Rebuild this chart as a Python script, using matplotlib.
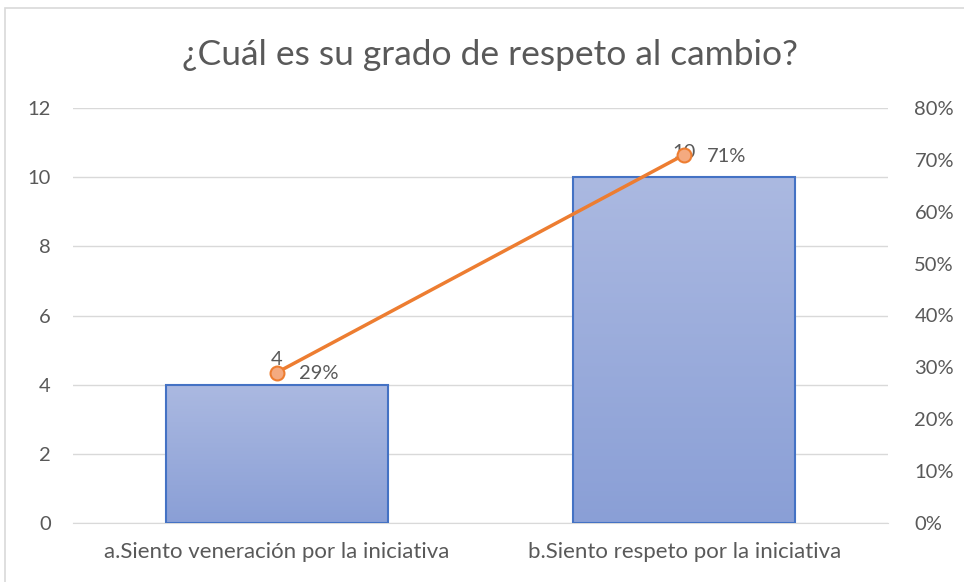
import numpy as np
import matplotlib.pyplot as plt
from matplotlib.patches import Rectangle
from matplotlib.ticker import PercentFormatter
from matplotlib.colors import LinearSegmentedColormap

plt.rcParams['font.family'] = ['Lato', 'DejaVu Sans']

categories = ["a.Siento veneración por la iniciativa", "b.Siento respeto por la iniciativa"]
counts = [4, 10]
shares = [0.29, 0.71]
share_labels = ["29%", "71%"]

grey = "#595959"

fig = plt.figure(figsize=(9.64, 5.82), dpi=100)
ax = fig.add_axes([73 / 964, 1 - 523 / 582, 815 / 964, 415 / 582])
ax2 = ax.twinx()

x = np.arange(len(categories))
bars = ax.bar(x, counts, width=0.545, facecolor="none", edgecolor="#4472c4",
              linewidth=1.5, zorder=3)

# vertical gradient inside each bar
cmap = LinearSegmentedColormap.from_list("g", ["#8a9fd6", "#abb9e1"])
grad = np.linspace(0, 1, 256).reshape(-1, 1)
for b in bars:
    x0, w, h = b.get_x(), b.get_width(), b.get_height()
    im = ax.imshow(grad, cmap=cmap, origin="lower", aspect="auto",
                   extent=[x0, x0 + w, 0, h], zorder=2)
    im.set_clip_path(b)

ax.set_xlim(-0.5, 1.5)
ax.set_ylim(0, 12)
ax.set_yticks(range(0, 13, 2))
ax.set_xticks(x)
ax.set_xticklabels(categories)
ax.grid(axis="y", color="#d9d9d9", linewidth=1, zorder=0)
ax.set_axisbelow(True)

for a in (ax, ax2):
    for s in a.spines.values():
        s.set_visible(False)
    a.tick_params(length=0, colors=grey, labelsize=14.5)
ax.spines["bottom"].set_visible(True)
ax.spines["bottom"].set_color("#d9d9d9")
ax.tick_params(axis="x", labelsize=16, pad=14)
ax.tick_params(axis="y", pad=16)
ax2.tick_params(axis="y", pad=19)

ax2.set_ylim(0, 0.8)
ax2.set_yticks(np.arange(0, 0.81, 0.1))
ax2.yaxis.set_major_formatter(PercentFormatter(1.0, decimals=0))

ax2.plot(x, shares, color="#ed7d31", linewidth=2.5, marker="o", markersize=10,
         markerfacecolor="#f4aa80", markeredgecolor="#ed7d31", markeredgewidth=1.5,
         zorder=5)

for xi, c in zip(x, counts):
    ax.annotate(str(c), (xi, c), xytext=(0, 18), textcoords="offset points",
                ha="center", va="center", color=grey, fontsize=14.5, zorder=6)
for xi, s, lab in zip(x, shares, share_labels):
    ax2.annotate(lab, (xi, s), xytext=(16, -1), textcoords="offset points",
                 ha="left", va="center", color=grey, fontsize=14.5, zorder=6)

fig.text(490 / 964, 1 - 55 / 582, "¿Cuál es su grado de respeto al cambio?",
         ha="center", va="center", color=grey, fontsize=25.5)

fig.patches.append(Rectangle((5 / 964, -0.1), 1.1, 1 - 8 / 582 + 0.1,
                             transform=fig.transFigure, fill=False,
                             edgecolor="#d9d9d9", linewidth=1.2))

fig.savefig("out.png", dpi=100)
